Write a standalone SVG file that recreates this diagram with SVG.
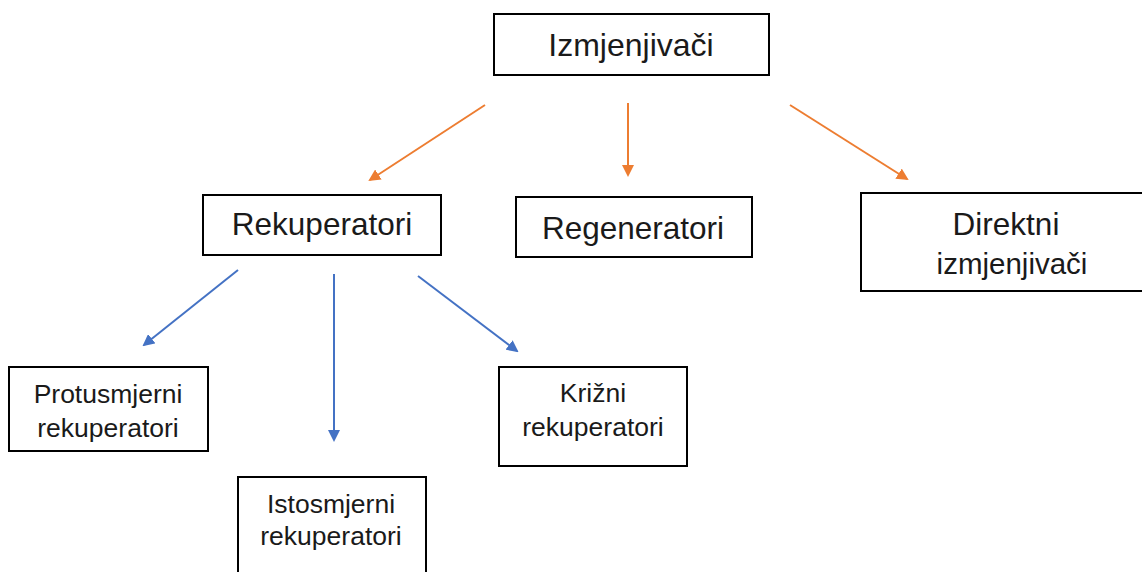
<svg xmlns="http://www.w3.org/2000/svg" width="1142" height="572" viewBox="0 0 1142 572">
<style>
.box{fill:#fff;stroke:#000;stroke-width:2}
.t{font-family:"Liberation Sans",Arial,sans-serif;fill:#1a1a1a;text-anchor:middle}
.big{font-size:32px}
.mid{font-size:31.5px}
.sm{font-size:26.5px}
.o{stroke:#ED7D31;stroke-width:2;fill:none}
.b{stroke:#4472C4;stroke-width:2;fill:none}
</style>
<defs>
<marker id="ao" markerWidth="12" markerHeight="12" refX="10" refY="6" orient="auto" markerUnits="userSpaceOnUse" viewBox="0 0 12 12"><path d="M0,0 L12,6 L0,12 z" fill="#ED7D31"/></marker>
<marker id="ab" markerWidth="12" markerHeight="12" refX="10" refY="6" orient="auto" markerUnits="userSpaceOnUse" viewBox="0 0 12 12"><path d="M0,0 L12,6 L0,12 z" fill="#4472C4"/></marker>
</defs>
<rect width="1142" height="572" fill="#fff"/>
<g id="connectors">
<line class="o" x1="485" y1="105" x2="370" y2="180" marker-end="url(#ao)"/>
<line class="o" x1="628" y1="103" x2="628" y2="175" marker-end="url(#ao)"/>
<line class="o" x1="790" y1="105" x2="907" y2="179" marker-end="url(#ao)"/>
<line class="b" x1="238" y1="270" x2="144" y2="345" marker-end="url(#ab)"/>
<line class="b" x1="334" y1="274" x2="334" y2="440" marker-end="url(#ab)"/>
<line class="b" x1="418" y1="276" x2="517" y2="351" marker-end="url(#ab)"/>
</g>
<g id="izmjenjivaci">
<rect class="box" x="494" y="14" width="275" height="61"/>
<text class="t big" x="631" y="56">Izmjenjivači</text>
</g>
<g id="rekuperatori">
<rect class="box" x="203" y="195" width="238" height="60"/>
<text class="t mid" x="322" y="235">Rekuperatori</text>
</g>
<g id="regeneratori">
<rect class="box" x="516" y="197" width="236" height="60"/>
<text class="t mid" x="633" y="239">Regeneratori</text>
</g>
<g id="direktni">
<rect class="box" x="861" y="193" width="290" height="98"/>
<text class="t mid" x="1006" y="235">Direktni</text>
<text class="t" x="1012" y="274" font-size="29.5">izmjenjivači</text>
</g>
<g id="protusmjerni">
<rect class="box" x="9" y="367" width="199" height="84"/>
<text class="t sm" x="108" y="403">Protusmjerni</text>
<text class="t sm" x="108" y="437">rekuperatori</text>
</g>
<g id="istosmjerni">
<rect class="box" x="238" y="477" width="188" height="110"/>
<text class="t sm" x="331" y="513">Istosmjerni</text>
<text class="t sm" x="331" y="545">rekuperatori</text>
</g>
<g id="krizni">
<rect class="box" x="499" y="367" width="188" height="99"/>
<text class="t sm" x="593" y="402">Križni</text>
<text class="t sm" x="593" y="436">rekuperatori</text>
</g>
</svg>
